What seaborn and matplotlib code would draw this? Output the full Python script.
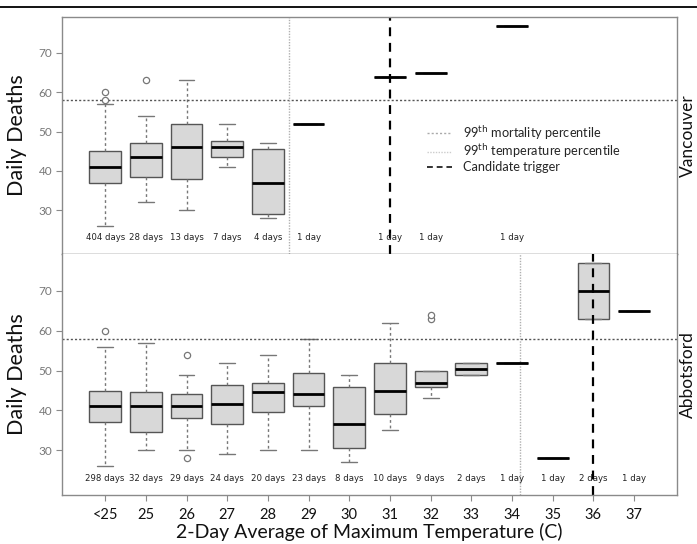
import numpy as np
import pandas as pd
import matplotlib
matplotlib.use('Agg')
import matplotlib.pyplot as plt
from matplotlib.lines import Line2D
import seaborn as sns

# -----------------------------
# Data
# -----------------------------
cats = ['<25', '25', '26', '27', '28', '29', '30', '31', '32', '33', '34', '35', '36', '37']

# Vancouver (top panel): five-number summaries per temperature bin
van_cat = ['<25', '25', '26', '27', '28', '29', '31', '32', '34']
van_low = [26, 32, 30, 41, 28, 52, 64, 65, 77]
van_q1 = [37, 38.5, 38, 43.5, 29, 52, 64, 65, 77]
van_med = [41, 43.5, 46, 46, 37, 52, 64, 65, 77]
van_q3 = [45, 47, 52, 47.5, 45.5, 52, 64, 65, 77]
van_high = [57, 54, 63, 52, 47, 52, 64, 65, 77]
van_days = [404, 28, 13, 7, 4, 1, 1, 1, 1]
van_out_cat = ['<25', '<25', '25']
van_out_val = [58, 60, 63]

# Abbotsford (bottom panel)
abb_cat = cats
abb_low = [26, 30, 30, 29, 30, 30, 27, 35, 43, 49, 52, 28, 63, 65]
abb_q1 = [37, 34.5, 38, 36.5, 39.5, 41, 30.5, 39, 46, 49, 52, 28, 63, 65]
abb_med = [41, 41, 41, 41.5, 44.5, 44, 36.5, 45, 47, 50.5, 52, 28, 70, 65]
abb_q3 = [45, 44.5, 44, 46.5, 47, 49.5, 46, 52, 50, 52, 52, 28, 77, 65]
abb_high = [56, 57, 49, 52, 54, 58, 49, 62, 50, 52, 52, 28, 77, 65]
abb_days = [298, 32, 29, 24, 20, 23, 8, 10, 9, 2, 1, 1, 2, 1]
abb_out_cat = ['<25', '26', '26', '32', '32']
abb_out_val = [60, 54, 28, 63, 64]

mortality_99 = 58
van_temp_99 = 4.52   # position between the 28 and 29 bins
abb_temp_99 = 10.2   # just right of the 34 bin
van_trigger = '31'
abb_trigger = '36'


def summary_frame(cat, low, q1, med, q3, high):
    # seven values per bin give exactly these quartiles / whisker ends
    rows = []
    for c, a, b, m, d, e in zip(cat, low, q1, med, q3, high):
        for v in [a, b, b, m, d, d, e]:
            rows.append((c, v))
    return pd.DataFrame(rows, columns=['temp', 'deaths'])


van_df = summary_frame(van_cat, van_low, van_q1, van_med, van_q3, van_high)
abb_df = summary_frame(abb_cat, abb_low, abb_q1, abb_med, abb_q3, abb_high)
van_out = pd.DataFrame({'temp': van_out_cat, 'deaths': van_out_val})
abb_out = pd.DataFrame({'temp': abb_out_cat, 'deaths': abb_out_val})

# -----------------------------
# Style
# -----------------------------
sns.set_style('white')
plt.rcParams['font.family'] = ['Lato', 'DejaVu Sans']

box_fill = '#d8d8d8'
edge = '#555555'
spine_col = '#8a8a8a'

fig = plt.figure(figsize=(6.97, 5.44), dpi=100)
ax1 = fig.add_axes([0.089, 0.533, 0.882, 0.436])
ax2 = fig.add_axes([0.089, 0.090, 0.882, 0.443])

box_kws = dict(order=cats, width=0.78, whis=(0, 100), showfliers=False,
               color=box_fill, linecolor=edge, linewidth=1.0,
               medianprops={'color': 'black', 'linewidth': 2.0},
               whiskerprops={'color': '#777777', 'linestyle': (0, (2, 2)), 'linewidth': 1.0},
               capprops={'color': '#777777', 'linewidth': 1.0})


def draw_panel(ax, df, out, cat, days, temp_99, trigger, city):
    sns.boxplot(data=df, x='temp', y='deaths', ax=ax, **box_kws)
    sns.stripplot(data=out, x='temp', y='deaths', order=cats, ax=ax, jitter=False,
                  size=4.5, color='white', edgecolor='#777777', linewidth=0.9)

    ax.axhline(mortality_99, color='#555555', linestyle=(0, (1.5, 1.5)), linewidth=1.0)
    ax.axvline(temp_99, color='#b0b0b0', linestyle=(0, (1, 1)), linewidth=1.0)
    ax.axvline(cats.index(trigger), color='black', linestyle=(0, (4, 3)), linewidth=1.6)

    for c, n in zip(cat, days):
        label = f'{n} days' if n > 1 else '1 day'
        ax.text(cats.index(c), 23, label, ha='center', va='center', fontsize=6.8,
                family='DejaVu Sans', fontstretch='condensed', color='#222222')

    ax.set_xlim(-1.06, 14.05)
    ax.set_ylim(18.8, 79.2)
    ax.set_yticks([30, 40, 50, 60, 70])
    ax.tick_params(axis='y', left=True, length=4, width=0.8, color=spine_col,
                   labelsize=8.5, labelcolor='#777777', pad=3)
    ax.set_ylabel('Daily Deaths', fontsize=15.5, color='#111111', labelpad=8)
    ax.set_xlabel('')
    for s in ax.spines.values():
        s.set_color(spine_col)
        s.set_linewidth(1.0)
    # panel name, tucked against the right edge of the figure
    bb = ax.get_position()
    fig.text(0.999, (bb.y0 + bb.y1) / 2, city, rotation=90, ha='right', va='center',
             fontsize=12.5, color='#111111')


draw_panel(ax1, van_df, van_out, van_cat, van_days, van_temp_99, van_trigger, 'Vancouver')
draw_panel(ax2, abb_df, abb_out, abb_cat, abb_days, abb_temp_99, abb_trigger, 'Abbotsford')

ax1.set_xticks([])
ax1.spines['bottom'].set_color('#555555')
ax2.spines['top'].set_visible(False)
ax2.set_xticks(range(len(cats)))
ax2.set_xticklabels(cats)
ax2.tick_params(axis='x', bottom=True, length=4, width=0.8, color=spine_col,
                labelsize=10.5, labelcolor='#111111', pad=5)
ax2.set_xlabel('2-Day Average of Maximum Temperature (C)', fontsize=14, color='#111111', labelpad=1)

# legend in the top panel
handles = [
    Line2D([], [], color='#aaaaaa', linestyle=(0, (1.5, 1.5)), linewidth=1.0),
    Line2D([], [], color='#cccccc', linestyle=(0, (1, 1)), linewidth=1.0),
    Line2D([], [], color='#333333', linestyle=(0, (3, 2)), linewidth=1.4),
]
labels = [r'99$^{\mathrm{th}}$ mortality percentile',
          r'99$^{\mathrm{th}}$ temperature percentile',
          'Candidate trigger']
ax1.legend(handles, labels, loc='upper left', bbox_to_anchor=(0.585, 0.57), frameon=False,
           fontsize=9.2, handlelength=2.0, handletextpad=0.8, labelspacing=0.05,
           borderaxespad=0)

# page rule across the top
fig.add_artist(Line2D([0, 1], [1 - 7 / 544, 1 - 7 / 544], color='black', linewidth=1.3))

fig.savefig('out.png', dpi=100)
